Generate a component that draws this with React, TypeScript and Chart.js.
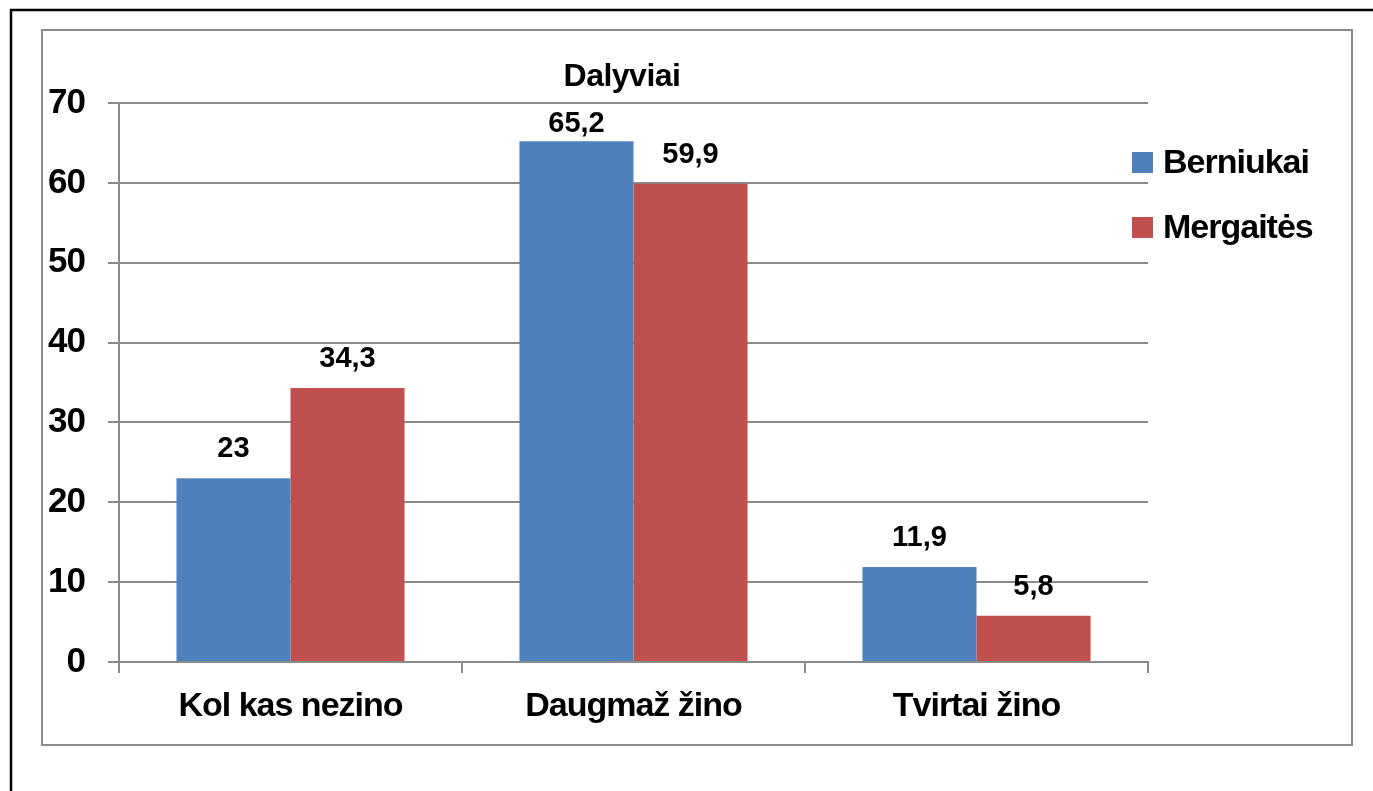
import React, { useEffect, useRef } from 'react';
import { Chart, registerables } from 'chart.js';

Chart.register(...registerables);

const categories = ['Kol kas nezino', 'Daugmaž žino', 'Tvirtai žino'];
const seriesNames = ['Berniukai', 'Mergaitės'];
const berniukai = [23, 65.2, 11.9];
const mergaites = [34.3, 59.9, 5.8];
const yTicks = [0, 10, 20, 30, 40, 50, 60, 70];
const chartTitle = 'Dalyviai';
const seriesColors = ['#4F81BD', '#C0504D'];

const FONT = "'Liberation Sans', Arial, sans-serif";
const GRID = '#8a8a8a';

const fmt = (v: number) => String(v).replace('.', ',');

const decorPlugin = {
  id: 'decor',
  beforeDraw(chart: any) {
    const ctx = chart.ctx;
    ctx.save();
    ctx.fillStyle = '#ffffff';
    ctx.fillRect(0, 0, chart.width, chart.height);
    // outer black frame
    ctx.strokeStyle = '#000000';
    ctx.lineWidth = 2.5;
    ctx.strokeRect(11, 10, chart.width + 20, chart.height + 20);
    // inner gray frame
    ctx.strokeStyle = GRID;
    ctx.lineWidth = 2;
    ctx.strokeRect(42, 30, 1310, 715);
    ctx.restore();
    // condensed axis text, as in the original
    ctx.letterSpacing = '-1px';
  },
  afterDraw(chart: any) {
    const ctx = chart.ctx;
    const area = chart.chartArea;
    ctx.save();
    // title
    ctx.fillStyle = '#000000';
    ctx.letterSpacing = '-0.5px';
    ctx.font = `bold 32px ${FONT}`;
    ctx.textAlign = 'center';
    ctx.textBaseline = 'alphabetic';
    ctx.fillText(chartTitle, 622, 86);

    // data labels
    ctx.letterSpacing = '0px';
    ctx.font = `bold 29px ${FONT}`;
    chart.data.datasets.forEach((ds: any, i: number) => {
      const meta = chart.getDatasetMeta(i);
      meta.data.forEach((el: any, j: number) => {
        const y = Math.max(el.y - 21, area.top + 29);
        ctx.fillText(fmt(ds.data[j]), el.x, y);
      });
    });

    // legend
    ctx.textAlign = 'left';
    ctx.letterSpacing = '-1px';
    ctx.font = `bold 34px ${FONT}`;
    chart.data.datasets.forEach((ds: any, i: number) => {
      const top = 152 + i * 65;
      ctx.fillStyle = ds.backgroundColor;
      ctx.fillRect(1132, top, 21, 21);
      ctx.fillStyle = '#000000';
      ctx.fillText(ds.label, 1163, top + 21);
    });
    ctx.restore();
  },
};

export default function App() {
  const ref = useRef<HTMLCanvasElement | null>(null);

  useEffect(() => {
    if (!ref.current) return;
    const chart = new Chart(ref.current, {
      type: 'bar',
      data: {
        labels: categories,
        datasets: [
          { label: seriesNames[0], data: berniukai, backgroundColor: seriesColors[0], borderWidth: 0 },
          { label: seriesNames[1], data: mergaites, backgroundColor: seriesColors[1], borderWidth: 0 },
        ],
      },
      options: {
        animation: false,
        responsive: false,
        maintainAspectRatio: false,
        layout: { padding: { left: 42, right: 225, top: 103, bottom: 0 } },
        datasets: { bar: { categoryPercentage: 0.665, barPercentage: 1 } },
        plugins: {
          legend: { display: false },
          title: { display: false },
          tooltip: { enabled: false },
        },
        scales: {
          x: {
            afterFit: (s: any) => { s.height = 129; },
            grid: {
              offset: true,
              drawOnChartArea: false,
              drawTicks: true,
              tickLength: 11,
              color: GRID,
              lineWidth: 2,
            },
            border: { display: true, color: GRID, width: 2 },
            ticks: {
              color: '#000000',
              font: { family: FONT, size: 34, weight: 'bold' },
              padding: 13,
              maxRotation: 0,
            },
          },
          y: {
            min: 0,
            max: 70,
            afterFit: (s: any) => { s.width = 77; },
            afterBuildTicks: (s: any) => { s.ticks = yTicks.map((v) => ({ value: v })); },
            grid: {
              drawTicks: true,
              tickLength: 11,
              color: GRID,
              lineWidth: 2,
            },
            border: { display: true, color: GRID, width: 2 },
            ticks: {
              color: '#000000',
              font: { family: FONT, size: 35, weight: 'bold' },
              padding: 23,
            },
          },
        },
      },
      plugins: [decorPlugin],
    });
    return () => chart.destroy();
  }, []);

  return (
    <div style={{ position: 'fixed', left: 0, top: 0, width: 1373, height: 791, background: '#fff' }}>
      <canvas ref={ref} width={1373} height={791} style={{ display: 'block' }} />
    </div>
  );
}
